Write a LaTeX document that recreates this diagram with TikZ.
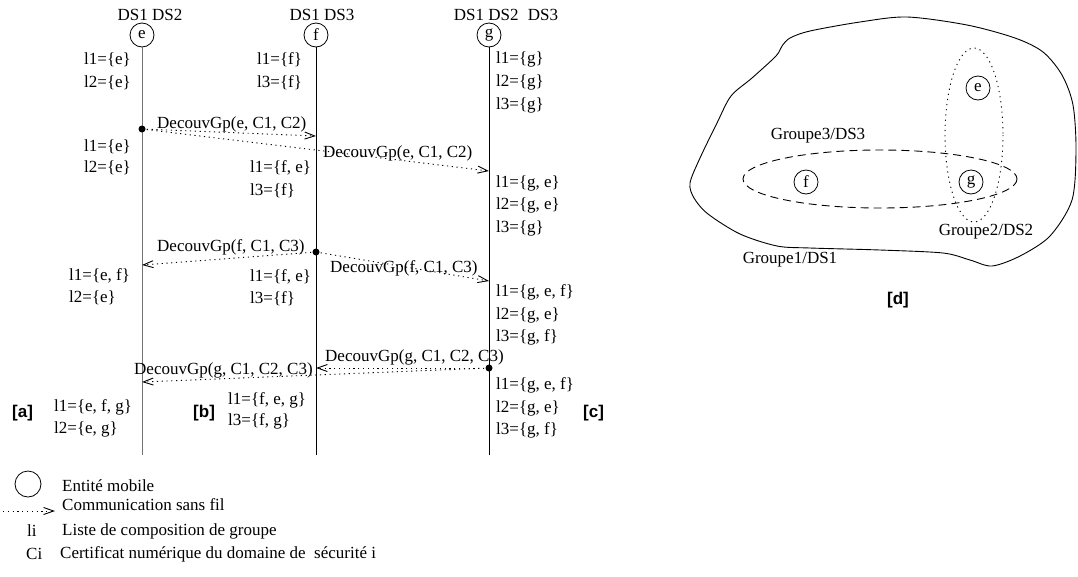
\documentclass[tikz,border=0pt]{standalone}
\usepackage{fontspec}
\setmainfont{Liberation Serif}
\setsansfont{Liberation Sans}
\usetikzlibrary{arrows.meta}
\begin{document}
\begin{tikzpicture}[x=1pt,y=-1pt,
  every node/.style={inner sep=0pt, font=\fontsize{17}{20}\selectfont},
  ent/.style={circle, draw, line width=0.8pt, minimum size=24pt, inner sep=0pt},
  life/.style={line width=0.9pt},
  msg/.style={line width=0.9pt, dash pattern=on 1.2pt off 3.6pt, -{Straight Barb[length=10pt,width=7pt]}},
  lst/.style={anchor=west},
  evt/.style={circle, fill=black, minimum size=7pt, inner sep=0pt},
  tag/.style={anchor=west, font=\fontsize{17}{20}\sffamily\bfseries},
  blob/.style={line width=0.9pt},
  grpdash/.style={line width=0.9pt, dash pattern=on 8pt off 5pt},
  grpdot/.style={line width=0.9pt, dash pattern=on 1.2pt off 4pt},
]
\fill[white] (0,0) rectangle (1078,576);
\useasboundingbox (0,0) rectangle (1078,576);

% ---- header labels
\node (hdre) at (150,15) {DS1 DS2};
\node (hdrf) at (322,15) {DS1 DS3};
\node (hdrg) at (506,15) {DS1 DS2\hspace{5pt} DS3};

% ---- entities and lifelines
\node[ent] (e) at (142,35) {e};
\node[ent] (f) at (316,35) {f};
\node[ent] (g) at (489,35) {g};
\coordinate (eb) at (142,455);
\coordinate (fb) at (316,455);
\coordinate (gb) at (489,455);
\draw[life, draw=black!55] (e) -- (eb);
\draw[life] (f) -- (fb);
\draw[life] (g) -- (gb);

% ---- event points
\coordinate (t1) at (316,136);
\coordinate (t2) at (489,171);
\coordinate (t3) at (142,265);
\coordinate (t4) at (489,281);
\coordinate (t5) at (316,368);
\coordinate (t6) at (142,382);

\draw[msg] (142,129) -- (t1);
\draw[msg] (142,129) -- (t2);
\draw[msg] (316,252) -- (t3);
\draw[msg] (316,252) -- (t4);
\draw[msg] (489,368) -- (t5);
\draw[msg] (489,368) -- (t6);

\node[evt] (de) at (142,129) {};
\node[evt] (df) at (316,252) {};
\node[evt] (dg) at (489,368) {};

% ---- message labels
\node[lst] (m1) at (157,124) {DecouvGp(e, C1, C2)};
\node[lst] (m2) at (323,153) {DecouvGp(e, C1, C2)};
\node[lst] (m3) at (157,247) {DecouvGp(f, C1, C3)};
\node[lst] (m4) at (330,268) {DecouvGp(f, C1, C3)};
\node[lst] (m5) at (325,357) {DecouvGp(g, C1, C2, C3)};
\node[lst] (m6) at (134,370) {DecouvGp(g, C1, C2, C3)};

% ---- lists at e
\node[lst] (ea1) at (84,60) {l1=\{e\}};
\node[lst] (ea2) at (84,83) {l2=\{e\}};
\node[lst] (eb1) at (84,147) {l1=\{e\}};
\node[lst] (eb2) at (84,168) {l2=\{e\}};
\node[lst] (ec1) at (69,276) {l1=\{e, f\}};
\node[lst] (ec2) at (69,298) {l2=\{e\}};
\node[lst] (ed1) at (54,407) {l1=\{e, f, g\}};
\node[lst] (ed2) at (54,429) {l2=\{e, g\}};
% ---- lists at f
\node[lst] (fa1) at (257,60) {l1=\{f\}};
\node[lst] (fa2) at (257,83) {l3=\{f\}};
\node[lst] (fb1) at (250,168) {l1=\{f, e\}};
\node[lst] (fb2) at (250,191) {l3=\{f\}};
\node[lst] (fc1) at (250,277) {l1=\{f, e\}};
\node[lst] (fc2) at (250,299) {l3=\{f\}};
\node[lst] (fd1) at (228,400) {l1=\{f, e, g\}};
\node[lst] (fd2) at (228,421) {l3=\{f, g\}};
% ---- lists at g
\node[lst] (ga1) at (496,59) {l1=\{g\}};
\node[lst] (ga2) at (496,82) {l2=\{g\}};
\node[lst] (ga3) at (496,105) {l3=\{g\}};
\node[lst] (gb1) at (496,183) {l1=\{g, e\}};
\node[lst] (gb2) at (496,205) {l2=\{g, e\}};
\node[lst] (gb3) at (496,228) {l3=\{g\}};
\node[lst] (gc1) at (496,292) {l1=\{g, e, f\}};
\node[lst] (gc2) at (496,315) {l2=\{g, e\}};
\node[lst] (gc3) at (496,337) {l3=\{g, f\}};
\node[lst] (gd1) at (496,385) {l1=\{g, e, f\}};
\node[lst] (gd2) at (496,408) {l2=\{g, e\}};
\node[lst] (gd3) at (496,430) {l3=\{g, f\}};

% ---- panel tags
\node[tag] (ta) at (12,413) {[a]};
\node[tag] (tb) at (193,413) {[b]};
\node[tag] (tc) at (583,413) {[c]};
\node[tag, anchor=center] (td) at (898,300) {[d]};

% ---- legend
\node[circle, draw, line width=0.8pt, minimum size=26pt] (lgc) at (28,484) {};
\node[lst] (lg1) at (62,486) {Entité mobile};
\coordinate (lga) at (3,511);
\coordinate (lgb) at (55,511);
\draw[msg] (lga) -- (lgb);
\node[lst] (lg2) at (62,505) {Communication sans fil};
\node[lst] (lg3a) at (27,531) {li};
\node[lst] (lg3) at (62,531) {Liste de composition de groupe};
\node[lst] (lg4a) at (26,554) {Ci};
\node[lst] (lg4) at (60,554) {Certificat numérique du domaine de\ \ sécurité i};

% ---- panel [d]
\draw[blob] plot[smooth cycle, tension=0.5] coordinates {
  (690,183) (700,158) (717,123) (731,96) (752,78) (776,56) (782,46)
  (790,38) (810,31) (860,22) (907,17) (967,25) (1015,38) (1043,52) (1062,75)
  (1073,105) (1076,150) (1072,200) (1050,236) (1020,256) (992,266)
  (970,260) (943,253) (880,250) (810,248) (777,246) (740,234) (708,214)
  (694,198)};
\draw[grpdash] (880,179) ellipse [x radius=137, y radius=29];
\draw[grpdot] (974,135) ellipse [x radius=29, y radius=87];
\node[ent] (de2) at (978,88) {e};
\node[ent] (df2) at (806,182) {f};
\node[ent] (dg2) at (971,182) {g};
\node (g3) at (818,136) {Groupe3/DS3};
\node (g2) at (986,232) {Groupe2/DS2};
\node (g1) at (790,260) {Groupe1/DS1};
\end{tikzpicture}
\end{document}
